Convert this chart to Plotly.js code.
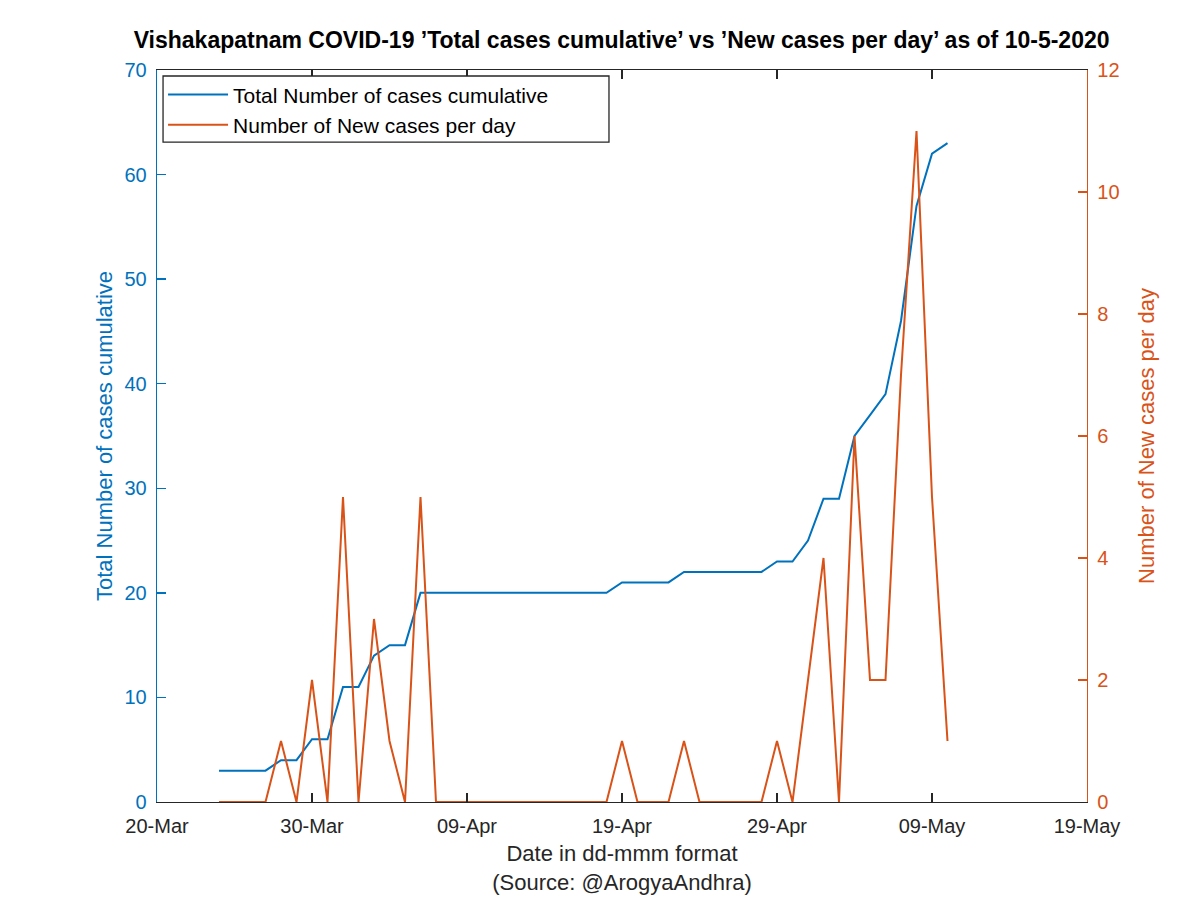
<!DOCTYPE html>
<html>
<head>
<meta charset="utf-8">
<script src="https://cdn.plot.ly/plotly-3.0.1.min.js"></script>
<style>html,body{margin:0;padding:0;background:#fff;}#chart{width:1200px;height:898px;}</style>
</head>
<body>
<div id="chart"></div>
<script>
const dates = [
  '2020-03-24','2020-03-25','2020-03-26','2020-03-27','2020-03-28','2020-03-29','2020-03-30','2020-03-31',
  '2020-04-01','2020-04-02','2020-04-03','2020-04-04','2020-04-05','2020-04-06','2020-04-07','2020-04-08',
  '2020-04-09','2020-04-10','2020-04-11','2020-04-12','2020-04-13','2020-04-14','2020-04-15','2020-04-16',
  '2020-04-17','2020-04-18','2020-04-19','2020-04-20','2020-04-21','2020-04-22','2020-04-23','2020-04-24',
  '2020-04-25','2020-04-26','2020-04-27','2020-04-28','2020-04-29','2020-04-30','2020-05-01','2020-05-02',
  '2020-05-03','2020-05-04','2020-05-05','2020-05-06','2020-05-07','2020-05-08','2020-05-09','2020-05-10'
];
const totalCases = [
  3,3,3,3,4,4,6,6,
  11,11,14,15,15,20,20,20,
  20,20,20,20,20,20,20,20,
  20,20,21,21,21,21,22,22,
  22,22,22,22,23,23,25,29,
  29,35,37,39,46,57,62,63
];
const newCases = [
  0,0,0,0,1,0,2,0,
  5,0,3,1,0,5,0,0,
  0,0,0,0,0,0,0,0,
  0,0,1,0,0,0,1,0,
  0,0,0,0,1,0,2,4,
  0,6,2,2,7,11,5,1
];
const xTickVals = ['2020-03-20','2020-03-30','2020-04-09','2020-04-19','2020-04-29','2020-05-09','2020-05-19'];
const xTickText = ['20-Mar','30-Mar','09-Apr','19-Apr','29-Apr','09-May','19-May'];
const leftTicks = [0,10,20,30,40,50,60,70];
const rightTicks = [0,2,4,6,8,10,12];

const blue = '#0072BD', orange = '#D95319', dark = '#262626';
const fontFam = '"Liberation Sans", Arial, Helvetica, sans-serif';

const traces = [
  {x: dates, y: totalCases, type: 'scatter', mode: 'lines', name: 'Total Number of cases cumulative',
   line: {color: blue, width: 2}, yaxis: 'y'},
  {x: dates, y: newCases, type: 'scatter', mode: 'lines', name: 'Number of New cases per day',
   line: {color: orange, width: 2}, yaxis: 'y2'}
];

const layout = {
  width: 1200, height: 898,
  margin: {l: 157, r: 113, t: 70, b: 96, pad: 0},
  paper_bgcolor: '#fff', plot_bgcolor: '#fff',
  font: {family: fontFam, color: dark, size: 20},
  showlegend: true,
  title: {text: '<b>Vishakapatnam COVID-19 ’Total cases cumulative’ vs ’New cases per day’ as of 10-5-2020</b>',
          x: 0.518, xanchor: 'center', y: 0.955, yanchor: 'middle', font: {size: 23, color: '#000'}},
  xaxis: {
    type: 'date', range: ['2020-03-20','2020-05-19'],
    tickmode: 'array', tickvals: xTickVals, ticktext: xTickText,
    ticks: 'inside', ticklen: 9, tickwidth: 1.3, tickcolor: dark, ticklabelstandoff: 6,
    showline: true, linecolor: dark, linewidth: 1.3, mirror: 'ticks',
    showgrid: false, zeroline: false,
    tickfont: {size: 20, color: dark},
    title: {text: 'Date in dd-mmm format<br>(Source: @ArogyaAndhra)', font: {size: 22, color: dark}, standoff: 9}
  },
  yaxis: {
    range: [0,70], tickmode: 'array', tickvals: leftTicks,
    ticks: 'inside', ticklen: 9, tickwidth: 1.3, tickcolor: blue, ticklabelstandoff: 5,
    showline: true, linecolor: blue, linewidth: 1.3,
    showgrid: false, zeroline: false,
    tickfont: {size: 20, color: blue},
    title: {text: 'Total Number of cases cumulative', font: {size: 22, color: blue}, standoff: 5}
  },
  yaxis2: {
    range: [0,12], tickmode: 'array', tickvals: rightTicks,
    overlaying: 'y', side: 'right',
    ticks: 'inside', ticklen: 9, tickwidth: 1.3, tickcolor: orange, ticklabelstandoff: 5,
    showline: true, linecolor: orange, linewidth: 1.3,
    showgrid: false, zeroline: false,
    tickfont: {size: 20, color: orange},
    title: {text: 'Number of New cases per day', font: {size: 22, color: orange}, standoff: 20}
  },
  shapes: [
    {type: 'rect', xref: 'paper', yref: 'paper', layer: 'above',
     x0: 0.0065, x1: 0.486, y0: 0.9014, y1: 0.9918,
     fillcolor: '#fff', line: {color: dark, width: 1.3}}
  ],
  legend: {
    x: 0.0065, y: 0.994, xanchor: 'left', yanchor: 'top',
    bgcolor: 'rgba(0,0,0,0)', borderwidth: 0,
    font: {size: 21, color: '#000'}, itemwidth: 60, tracegroupgap: 0
  }
};

Plotly.newPlot('chart', traces, layout, {displayModeBar: false, staticPlot: true});
</script>
</body>
</html>
